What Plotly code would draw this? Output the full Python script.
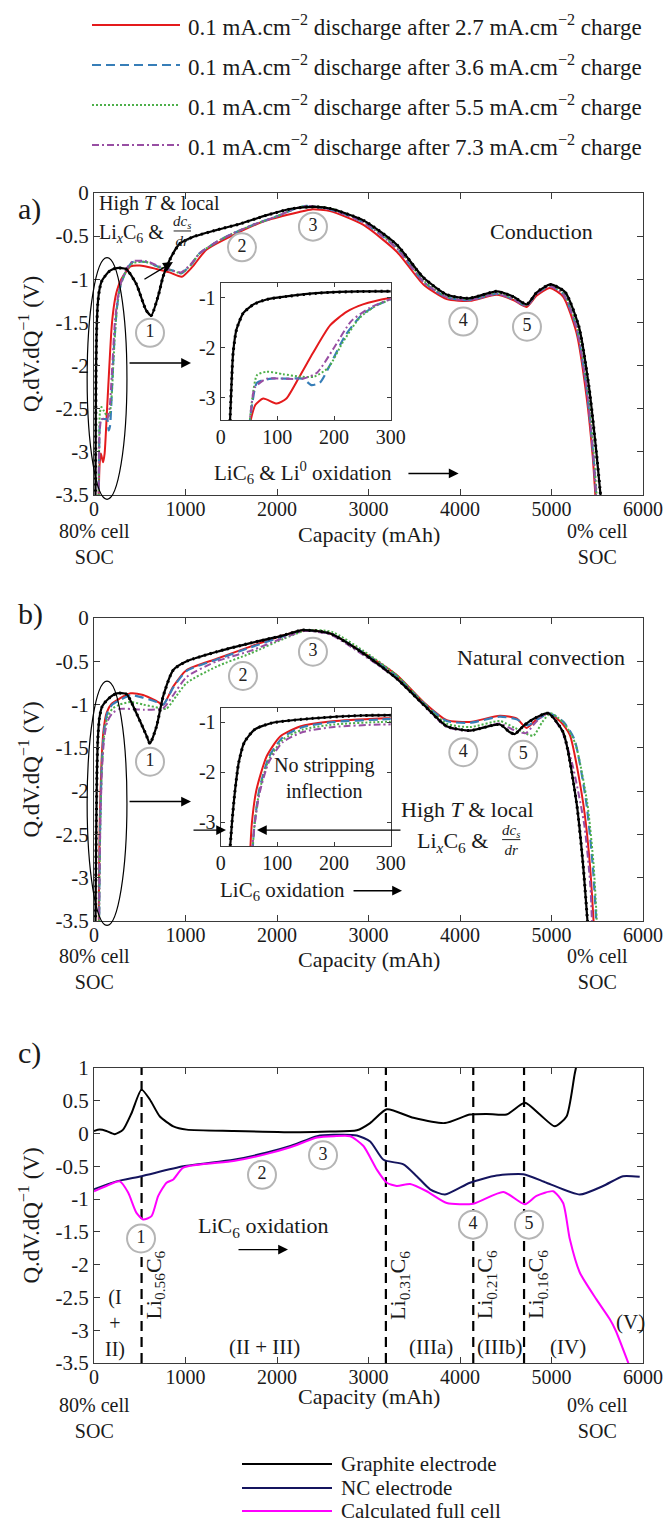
import plotly.graph_objects as go

W, H = 665, 1525

# ---------------- data: panel a (conduction) ----------------
a_black_x = [16, 19, 22, 28, 40, 58, 81, 116, 175, 250, 350, 460, 570, 625, 700, 755, 825, 935, 1080, 1335, 1590, 1880, 2170, 2420, 2580, 2950, 3310, 3600, 3860, 4100, 4400, 4580, 4730, 4840, 4990, 5150, 5300, 5410, 5490, 5545]
a_black_y = [-3.6, -2.75, -2.09, -1.63, -1.3, -1.13, -1.03, -0.97, -0.9, -0.87, -0.88, -1.05, -1.36, -1.42, -1.2, -0.97, -0.78, -0.59, -0.51, -0.43, -0.36, -0.26, -0.18, -0.16, -0.18, -0.32, -0.6, -0.98, -1.18, -1.22, -1.14, -1.2, -1.29, -1.15, -1.06, -1.15, -1.55, -2.25, -3.0, -3.6]

a_red_x = [50, 61, 75, 99, 116, 140, 163, 193, 222, 251, 298, 400, 500, 680, 825, 960, 1080, 1225, 1516, 1880, 2244, 2380, 2580, 2945, 3309, 3600, 3855, 4109, 4400, 4582, 4727, 4836, 4982, 5127, 5273, 5382, 5450, 5485]
a_red_y = [-3.6, -3.15, -3.02, -3.12, -3.02, -2.56, -2.1, -1.55, -1.28, -1.13, -1.0, -0.85, -0.84, -0.88, -0.92, -0.97, -0.85, -0.66, -0.49, -0.32, -0.22, -0.19, -0.21, -0.37, -0.68, -1.06, -1.23, -1.25, -1.18, -1.24, -1.32, -1.19, -1.1, -1.2, -1.62, -2.35, -3.05, -3.6]

a_blue_x = [50, 56, 64, 90, 120, 145, 160, 175, 195, 220, 250, 280, 300, 360, 425, 570, 716, 862, 953, 1062, 1153, 1335, 1516, 1735, 2000, 2200, 2320, 2580, 2945, 3309, 3600, 3855, 4109, 4400, 4582, 4727, 4836, 4982, 5127, 5273, 5382, 5455, 5495]
a_blue_y = [-3.6, -3.1, -2.7, -2.62, -2.62, -2.62, -2.75, -2.7, -2.3, -1.75, -1.33, -1.12, -1.04, -0.88, -0.8, -0.8, -0.86, -0.9, -0.93, -0.83, -0.7, -0.57, -0.47, -0.37, -0.27, -0.18, -0.15, -0.19, -0.34, -0.64, -1.03, -1.21, -1.24, -1.17, -1.23, -1.31, -1.17, -1.08, -1.17, -1.56, -2.25, -3.02, -3.6]

a_green_x = [50, 56, 64, 81, 110, 140, 165, 190, 215, 245, 275, 300, 360, 425, 570, 716, 862, 953, 1062, 1153, 1335, 1516, 1735, 2000, 2200, 2330, 2590, 2950, 3315, 3605, 3860, 4110, 4400, 4585, 4730, 4840, 4985, 5130, 5280, 5390, 5460, 5500]
a_green_y = [-3.6, -3.0, -2.55, -2.48, -2.53, -2.58, -2.58, -2.4, -1.9, -1.4, -1.15, -1.03, -0.89, -0.81, -0.8, -0.86, -0.9, -0.93, -0.83, -0.7, -0.57, -0.47, -0.37, -0.27, -0.18, -0.15, -0.18, -0.33, -0.63, -1.02, -1.2, -1.23, -1.16, -1.22, -1.3, -1.16, -1.07, -1.16, -1.55, -2.22, -3.0, -3.6]

a_purple_x = [50, 55, 60, 81, 110, 145, 170, 200, 230, 263, 298, 360, 425, 570, 716, 862, 953, 1062, 1153, 1335, 1516, 1735, 2000, 2200, 2320, 2580, 2945, 3309, 3600, 3855, 4109, 4400, 4582, 4727, 4836, 4982, 5127, 5273, 5382, 5455, 5492]
a_purple_y = [-3.6, -3.1, -2.8, -2.62, -2.62, -2.62, -2.5, -2.0, -1.47, -1.2, -1.03, -0.87, -0.79, -0.79, -0.85, -0.9, -0.92, -0.82, -0.7, -0.57, -0.47, -0.37, -0.27, -0.18, -0.15, -0.19, -0.34, -0.64, -1.03, -1.21, -1.24, -1.17, -1.23, -1.31, -1.17, -1.08, -1.17, -1.56, -2.25, -3.02, -3.6]

# ---------------- data: panel b (natural convection) ----------------
b_black_x = [16, 20, 25, 32, 42, 60, 90, 160, 250, 355, 464, 574, 611, 684, 757, 867, 1013, 1342, 1708, 2073, 2280, 2582, 2945, 3309, 3600, 3855, 4109, 4436, 4545, 4600, 4700, 4830, 4964, 5127, 5273, 5345, 5400]
b_black_y = [-3.6, -3.0, -2.4, -1.8, -1.4, -1.15, -1.02, -0.93, -0.87, -0.88, -1.1, -1.36, -1.45, -1.25, -0.9, -0.6, -0.5, -0.39, -0.29, -0.2, -0.14, -0.18, -0.41, -0.7, -1.0, -1.25, -1.3, -1.23, -1.32, -1.34, -1.24, -1.15, -1.1, -1.32, -2.13, -2.85, -3.6]

b_red_x = [52, 55, 63, 81, 105, 140, 193, 281, 400, 537, 684, 757, 867, 1013, 1342, 1708, 2073, 2300, 2582, 2945, 3309, 3600, 3855, 4109, 4436, 4618, 4727, 4830, 4964, 5100, 5200, 5345, 5420, 5465]
b_red_y = [-3.6, -3.02, -2.36, -1.69, -1.29, -1.09, -0.99, -0.93, -0.87, -0.89, -0.96, -1.0, -0.79, -0.6, -0.47, -0.33, -0.2, -0.14, -0.18, -0.4, -0.66, -0.97, -1.18, -1.2, -1.13, -1.16, -1.27, -1.18, -1.1, -1.2, -1.35, -2.13, -2.85, -3.6]

b_blue_x = [56, 60, 68, 85, 110, 145, 200, 281, 400, 537, 684, 757, 867, 1013, 1342, 1708, 2073, 2300, 2582, 2945, 3309, 3600, 3855, 4109, 4436, 4618, 4740, 4850, 4975, 5130, 5250, 5380, 5450, 5495]
b_blue_y = [-3.6, -3.0, -2.36, -1.7, -1.3, -1.1, -1.0, -0.95, -0.89, -0.92, -0.97, -1.0, -0.8, -0.61, -0.48, -0.34, -0.21, -0.14, -0.18, -0.4, -0.67, -0.98, -1.19, -1.21, -1.14, -1.17, -1.24, -1.17, -1.1, -1.2, -1.4, -2.13, -2.85, -3.6]

b_green_x = [56, 60, 68, 85, 110, 145, 200, 281, 400, 537, 720, 790, 900, 1013, 1342, 1708, 2073, 2330, 2600, 2945, 3309, 3600, 3855, 4109, 4436, 4600, 4800, 4900, 4990, 5140, 5260, 5390, 5460, 5500]
b_green_y = [-3.6, -3.02, -2.4, -1.75, -1.35, -1.15, -1.05, -1.0, -0.97, -1.0, -1.04, -1.05, -0.9, -0.75, -0.56, -0.41, -0.24, -0.14, -0.16, -0.38, -0.66, -0.98, -1.22, -1.26, -1.19, -1.27, -1.36, -1.2, -1.1, -1.22, -1.45, -2.13, -2.85, -3.6]

b_purple_x = [55, 60, 68, 85, 110, 145, 200, 281, 400, 550, 757, 860, 1013, 1342, 1708, 2073, 2300, 2582, 2945, 3309, 3600, 3855, 4109, 4436, 4600, 4720, 4830, 4964, 5110, 5230, 5360, 5425, 5445]
b_purple_y = [-3.6, -3.05, -2.45, -1.8, -1.4, -1.2, -1.1, -1.05, -1.05, -1.06, -1.04, -0.9, -0.68, -0.5, -0.38, -0.23, -0.15, -0.19, -0.43, -0.7, -1.0, -1.26, -1.3, -1.22, -1.3, -1.33, -1.2, -1.1, -1.3, -1.7, -2.4, -3.1, -3.6]

# ---------------- data: panel c (model) ----------------
c_graphite_x = [0, 62, 135, 227, 318, 410, 519, 610, 720, 867, 1013, 1525, 2256, 2582, 2873, 3018, 3200, 3491, 3836, 4109, 4291, 4509, 4709, 4873, 5036, 5164, 5255, 5330]
c_graphite_y = [0.04, 0.06, 0.04, -0.01, 0.06, 0.31, 0.67, 0.52, 0.26, 0.11, 0.06, 0.04, 0.02, 0.03, 0.05, 0.16, 0.37, 0.24, 0.16, 0.29, 0.30, 0.29, 0.47, 0.29, 0.11, 0.26, 0.92, 1.4]

c_nc_x = [0, 245, 519, 976, 1525, 1890, 2146, 2439, 2622, 2873, 3018, 3164, 3382, 3527, 3673, 3836, 4109, 4400, 4691, 4945, 5309, 5564, 5782, 5964]
c_nc_y = [-0.85, -0.73, -0.65, -0.5, -0.40, -0.29, -0.19, -0.04, -0.02, -0.03, -0.12, -0.40, -0.47, -0.65, -0.85, -0.93, -0.75, -0.64, -0.62, -0.75, -0.93, -0.80, -0.65, -0.66]

c_full_x = [0, 135, 282, 373, 464, 537, 629, 702, 793, 867, 976, 1525, 1890, 2146, 2439, 2622, 2800, 2945, 3091, 3200, 3309, 3455, 3636, 3855, 4145, 4473, 4709, 4836, 5018, 5127, 5200, 5309, 5491, 5636, 5700, 5880]
c_full_y = [-0.88, -0.80, -0.73, -0.90, -1.21, -1.31, -1.26, -0.95, -0.75, -0.70, -0.52, -0.42, -0.31, -0.21, -0.06, -0.04, -0.04, -0.19, -0.55, -0.75, -0.80, -0.77, -0.88, -1.06, -1.07, -0.89, -1.08, -0.95, -0.88, -1.06, -1.61, -2.12, -2.53, -2.83, -3.0, -3.65]

c_phase_x = [520, 3190, 4145, 4700]
c_phase_labels = ["Li<sub>0.56</sub>C<sub>6</sub>", "Li<sub>0.31</sub>C<sub>6</sub>",
                  "Li<sub>0.21</sub>C<sub>6</sub>", "Li<sub>0.16</sub>C<sub>6</sub>"]

peak_labels = ["1", "2", "3", "4", "5"]
a_peak_x = [612, 1617, 2393, 4036, 4732]
a_peak_y = [-1.62, -0.63, -0.39, -1.49, -1.55]
b_peak_x = [612, 1628, 2393, 4036, 4690]
b_peak_y = [-1.66, -0.67, -0.39, -1.55, -1.58]
c_peak_x = [514, 1836, 2503, 4142, 4754]
c_peak_y = [-1.6, -0.63, -0.33, -1.39, -1.39]

x_ticks = [0, 1000, 2000, 3000, 4000, 5000, 6000]
ab_y_ticks = [0, -0.5, -1, -1.5, -2, -2.5, -3, -3.5]
c_y_ticks = [1, 0.5, 0, -0.5, -1, -1.5, -2, -2.5, -3, -3.5]
inset_x_ticks = [0, 100, 200, 300]
inset_y_ticks = [-1, -2, -3]

series_names = [
    "0.1 mA.cm<sup>−2</sup> discharge after 2.7 mA.cm<sup>−2</sup> charge",
    "0.1 mA.cm<sup>−2</sup> discharge after 3.6 mA.cm<sup>−2</sup> charge",
    "0.1 mA.cm<sup>−2</sup> discharge after 5.5 mA.cm<sup>−2</sup> charge",
    "0.1 mA.cm<sup>−2</sup> discharge after 7.3 mA.cm<sup>−2</sup> charge",
]
c_names = ["Graphite electrode", "NC electrode", "Calculated full cell"]

# ---------------- styles ----------------
STY = [
    dict(color="#e41a1c", width=2, dash="solid"),
    dict(color="#377eb8", width=2.2, dash="9px,5px"),
    dict(color="#4daf4a", width=2, dash="2px,2px"),
    dict(color="#984ea3", width=2, dash="7px,3px,2px,3px"),
]
C_STY = [dict(color="black", width=2), dict(color="#14145e", width=2), dict(color="#ff00ff", width=2)]
FONT = "Liberation Serif, DejaVu Serif, Times New Roman, serif"


def fmt(v):
    return "%g" % v


def px2x(p):
    return p / W


def px2y(p):
    return 1 - p / H


fig = go.Figure()

panels = [
    ("x", "y", [(a_red_x, a_red_y), (a_blue_x, a_blue_y), (a_green_x, a_green_y), (a_purple_x, a_purple_y)], (a_black_x, a_black_y), "x4", "y4"),
    ("x2", "y2", [(b_red_x, b_red_y), (b_blue_x, b_blue_y), (b_green_x, b_green_y), (b_purple_x, b_purple_y)], (b_black_x, b_black_y), "x5", "y5"),
]
for xa, ya, series, black, xi, yi in panels:
    for (xx, yy), st in zip(series, STY):
        for xr, yr in ((xa, ya), (xi, yi)):
            fig.add_trace(go.Scatter(x=xx, y=yy, xaxis=xr, yaxis=yr, mode="lines",
                                     line=dict(shape="spline", smoothing=0.6, **st),
                                     showlegend=False, hoverinfo="skip"))
    for xr, yr in ((xa, ya), (xi, yi)):
        fig.add_trace(go.Scatter(x=black[0], y=black[1], xaxis=xr, yaxis=yr, mode="lines",
                                 line=dict(shape="spline", smoothing=0.6, color="black", width=2.2),
                                 showlegend=False, hoverinfo="skip"))
        fig.add_trace(go.Scatter(x=black[0], y=black[1], xaxis=xr, yaxis=yr, mode="lines",
                                 line=dict(shape="spline", smoothing=0.6, color="black", width=3, dash="2px,4px"),
                                 showlegend=False, hoverinfo="skip"))

for (xx, yy), st in zip([(c_graphite_x, c_graphite_y), (c_nc_x, c_nc_y), (c_full_x, c_full_y)], C_STY):
    fig.add_trace(go.Scatter(x=xx, y=yy, xaxis="x3", yaxis="y3", mode="lines",
                             line=dict(shape="spline", smoothing=0.6, **st),
                             showlegend=False, hoverinfo="skip"))

# circled peak numbers
for xr, yr, px_, py_ in (("x", "y", a_peak_x, a_peak_y), ("x2", "y2", b_peak_x, b_peak_y), ("x3", "y3", c_peak_x, c_peak_y)):
    fig.add_trace(go.Scatter(x=px_, y=py_, xaxis=xr, yaxis=yr, mode="markers+text", text=peak_labels,
                             textposition="middle center", textfont=dict(size=18, color="#222"),
                             marker=dict(symbol="circle", size=28, color="white",
                                         line=dict(color="#b5b5b5", width=2)),
                             cliponaxis=False, showlegend=False, hoverinfo="skip"))


def axis(**kw):
    d = dict(showline=True, linecolor="#3a3a3a", linewidth=1.3, mirror="ticks", ticks="inside",
             ticklen=6, tickcolor="#3a3a3a", tickwidth=1.2, showgrid=False, zeroline=False,
             automargin=False, tickfont=dict(size=21, color="#1a1a1a"))
    d.update(kw)
    return d


xdom = [px2x(94), px2x(643)]
ins_xdom = [px2x(220.7), px2x(390.7)]
ytitle = dict(text="Q.dV.dQ<sup>−1</sup> (V)", font=dict(size=23), standoff=9)

xa_common = dict(range=[0, 6000], tickvals=x_ticks, ticktext=[fmt(v) for v in x_ticks],
                 ticklabelstandoff=-4, tickfont=dict(size=20, color="#1a1a1a"))
ins_x_common = dict(range=[0, 300], tickvals=inset_x_ticks, ticktext=[fmt(v) for v in inset_x_ticks],
                    ticklen=4, tickfont=dict(size=20), ticklabelstandoff=-1)
ins_y_common = dict(tickvals=inset_y_ticks, ticktext=[fmt(v) for v in inset_y_ticks], ticklen=4, tickfont=dict(size=20))

fig.update_layout(
    template="none",
    width=W, height=H, autosize=False,
    margin=dict(l=0, r=0, t=0, b=0, pad=0, autoexpand=False),
    paper_bgcolor="white", plot_bgcolor="white",
    font=dict(family=FONT, size=20, color="#1a1a1a"), showlegend=False,
    xaxis=axis(domain=xdom, anchor="y", **xa_common),
    yaxis=axis(domain=[px2y(495), px2y(193)], anchor="x", range=[-3.5, 0], tickvals=ab_y_ticks, ticktext=[fmt(v) for v in ab_y_ticks], title=ytitle),
    xaxis2=axis(domain=xdom, anchor="y2", **xa_common),
    yaxis2=axis(domain=[px2y(921), px2y(618)], anchor="x2", range=[-3.5, 0], tickvals=ab_y_ticks, ticktext=[fmt(v) for v in ab_y_ticks], title=ytitle),
    xaxis3=axis(domain=xdom, anchor="y3", **xa_common),
    yaxis3=axis(domain=[px2y(1363), px2y(1068)], anchor="x3", range=[-3.5, 1], tickvals=c_y_ticks, ticktext=[fmt(v) for v in c_y_ticks], title=ytitle),
    xaxis4=axis(domain=ins_xdom, anchor="y4", **ins_x_common),
    yaxis4=axis(domain=[px2y(420), px2y(283)], anchor="x4", range=[-3.45, -0.7], **ins_y_common),
    xaxis5=axis(domain=ins_xdom, anchor="y5", **ins_x_common),
    yaxis5=axis(domain=[px2y(846), px2y(708)], anchor="x5", range=[-3.48, -0.72], **ins_y_common),
)

shapes = []
ann = []


def xd(v):
    return v / 6000.0


def yd(v, lo=-3.5, hi=0.0):
    return (v - lo) / (hi - lo)


# ellipses around the low-capacity region
for ax_, ay_, top in (("x", "y", -0.75), ("x2", "y2", -0.73)):
    shapes.append(dict(type="circle", xref=ax_ + " domain", yref=ay_ + " domain",
                       x0=xd(-75), x1=xd(360), y0=yd(-3.55), y1=yd(top),
                       line=dict(color="black", width=1.2)))

# fraction bars dc_s/dr
shapes.append(dict(type="line", xref="x", yref="y", x0=870, x1=1060, y0=-0.44, y1=-0.44, line=dict(color="#222", width=1)))
shapes.append(dict(type="line", xref="x2", yref="y2", x0=4460, x1=4660, y0=-2.56, y1=-2.56, line=dict(color="#222", width=1)))

# phase boundary dashed lines (panel c), beneath the curves
for xv in c_phase_x:
    shapes.append(dict(type="line", xref="x3", yref="y3 domain", x0=xv, x1=xv, y0=0, y1=1, layer="below",
                       line=dict(color="black", width=2.2, dash="10px,6px")))

# legends
top_rows = [25, 65, 105, 145]
for st, name, row in zip(STY, series_names, top_rows):
    shapes.append(dict(type="line", xref="paper", yref="paper", x0=px2x(92), x1=px2x(180),
                       y0=px2y(row), y1=px2y(row), line=dict(color=st["color"], width=st["width"], dash=st["dash"])))
    ann.append(dict(xref="paper", yref="paper", x=px2x(186), y=px2y(row), xanchor="left", yanchor="middle",
                    text=name, showarrow=False, font=dict(size=23)))
bot_rows = [1464, 1488, 1511]
for st, name, row in zip(C_STY, c_names, bot_rows):
    shapes.append(dict(type="line", xref="paper", yref="paper", x0=px2x(242), x1=px2x(332),
                       y0=px2y(row), y1=px2y(row), line=dict(color=st["color"], width=st["width"])))
    ann.append(dict(xref="paper", yref="paper", x=px2x(339), y=px2y(row), xanchor="left", yanchor="middle",
                    text=name, showarrow=False, font=dict(size=21)))


def txt(x, y, text, xref, yref, size=20, **kw):
    d = dict(x=x, y=y, xref=xref, yref=yref, text=text, showarrow=False, font=dict(size=size))
    d.update(kw)
    ann.append(d)


def arrow(x0, y0, x1, y1, xref, yref):
    ann.append(dict(x=x1, y=y1, ax=x0, ay=y0, xref=xref, yref=yref, axref=xref, ayref=yref,
                    showarrow=True, arrowhead=2, arrowsize=1.4, arrowwidth=1.4, arrowcolor="black", text=""))


# panel letters
for lab, row in (("a)", 190), ("b)", 614), ("c)", 1072)):
    txt(px2x(16), px2y(row), lab, "paper", "paper", size=30, xanchor="left")

# x titles and SOC labels under each panel
for xr, row, soc_top in (("x", 534, 518), ("x2", 959, 943), ("x3", 1411, 1392)):
    txt(3000, px2y(row), "Capacity (mAh)", xr, "paper", size=22)
    txt(0, px2y(soc_top), "80% cell<br>SOC", xr, "paper", size=20, yanchor="top")
    txt(px2x(630), px2y(soc_top), "0% cell<br>SOC", "paper", "paper", size=20, yanchor="top")

# panel a annotations
txt(30, -0.12, "High <i>T</i> & local", "x", "y", size=20, xanchor="left")
txt(30, -0.47, "Li<sub><i>x</i></sub>C<sub>6</sub> &", "x", "y", size=20, xanchor="left")
txt(965, -0.44, "<i>dc<sub>s</sub></i><br><i>dr</i>", "x", "y", size=15)
arrow(535, -1.01, 863, -0.80, "x", "y")
arrow(372, -1.97, 1060, -1.97, "x", "y")
txt(4896, -0.45, "Conduction", "x", "y", size=22)
txt(2284, -3.24, "LiC<sub>6</sub> & Li<sup>0</sup> oxidation", "x", "y", size=21)
arrow(3420, -3.25, 3985, -3.25, "x", "y")

# panel b annotations
arrow(372, -2.12, 1060, -2.12, "x2", "y2")
txt(4885, -0.46, "Natural convection", "x2", "y2", size=22)
txt(184, -2.12, "No stripping<br>inflection", "x5", "y5", size=20)
arrow(1071, -2.45, 1443, -2.45, "x2", "y2")
arrow(3366, -2.45, 1781, -2.45, "x2", "y2")
txt(4087, -2.21, "High <i>T</i> & local", "x2", "y2", size=22)
txt(3913, -2.59, "Li<sub><i>x</i></sub>C<sub>6</sub> &", "x2", "y2", size=22)
txt(4560, -2.56, "<i>dc<sub>s</sub></i><br><i>dr</i>", "x2", "y2", size=15)
txt(2055, -3.15, "LiC<sub>6</sub> oxidation", "x2", "y2", size=21)
arrow(2820, -3.15, 3366, -3.15, "x2", "y2")

# panel c annotations
txt(1850, -1.42, "LiC<sub>6</sub> oxidation", "x3", "y3", size=22)
arrow(1563, -1.77, 2120, -1.77, "x3", "y3")
for xv, lab in zip(c_phase_x, c_phase_labels):
    txt(xv, -2.31, lab, "x3", "y3", size=22, textangle=-90, xshift=13)
txt(230, -2.9, "(I<br>+<br>II)", "x3", "y3", size=20)
txt(1858, -3.25, "(II + III)", "x3", "y3", size=21)
txt(3683, -3.25, "(IIIa)", "x3", "y3", size=21)
txt(4437, -3.25, "(IIIb)", "x3", "y3", size=21)
txt(5180, -3.25, "(IV)", "x3", "y3", size=21)
txt(5860, -2.88, "(V)", "x3", "y3", size=21)

fig.update_layout(shapes=shapes, annotations=ann)
fig.write_html("out.html")
